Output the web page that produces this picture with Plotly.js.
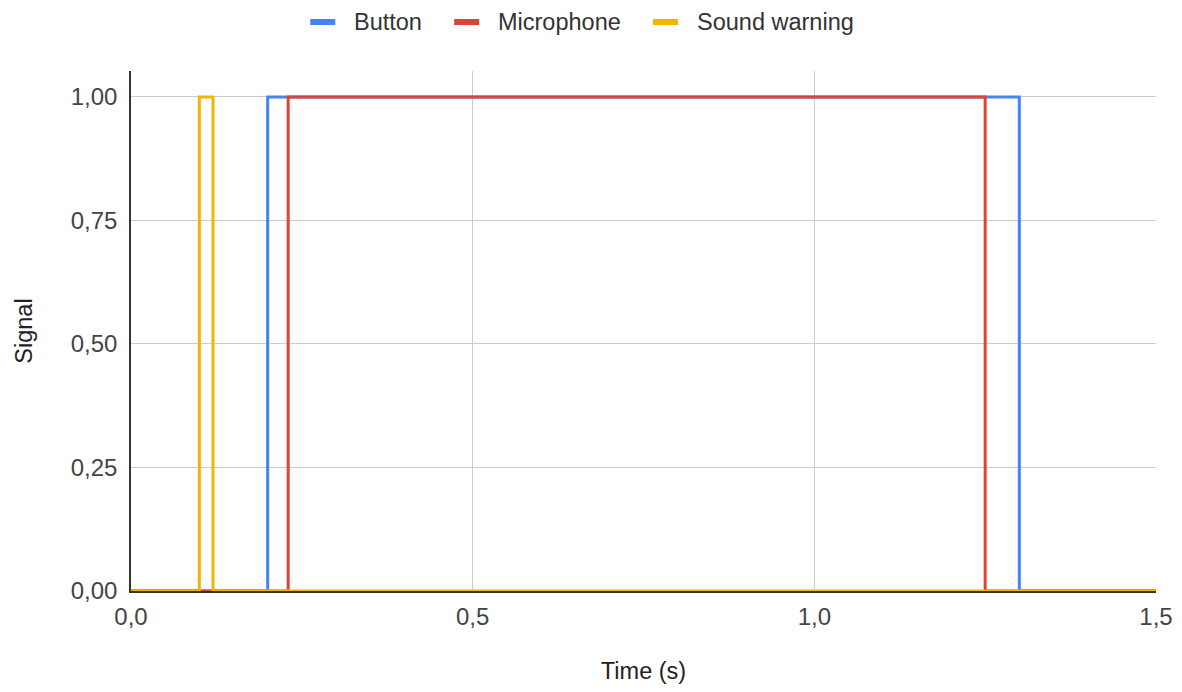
<!DOCTYPE html>
<html>
<head>
<meta charset="utf-8">
<script src="https://cdn.plot.ly/plotly-3.0.1.min.js"></script>
<style>
  html, body { margin: 0; padding: 0; background: #fff; }
  #chart { width: 1182px; height: 692px; }
</style>
</head>
<body>
<div id="chart"></div>
<script>
// Signal timing (seconds) – each series switches on and back off once
const seriesNames = ['Button', 'Microphone', 'Sound warning'];
const buttonTime = [0, 0.20, 1.30, 1.5];
const buttonSignal = [0, 1, 0, 0];
const micTime = [0, 0.23, 1.25, 1.5];
const micSignal = [0, 1, 0, 0];
const warningTime = [0, 0.10, 0.12, 1.5];
const warningSignal = [0, 1, 0, 0];
const yTicks = [0, 0.25, 0.5, 0.75, 1];
const xTicks = [0, 0.5, 1, 1.5];

const colors = ['#4285F4', '#DB4437', '#F4B400'];
const FONT = '"Liberation Sans", Arial, sans-serif';

const W = 1182, H = 692;
const M = { l: 131, r: 26, t: 71, b: 101 };
const plotW = W - M.l - M.r, plotH = H - M.t - M.b;

function stepTrace(name, x, y, color) {
  return {
    type: 'scatter', mode: 'lines', name: name,
    x: x, y: y,
    line: { color: color, width: 3, shape: 'hv' },
    showlegend: false,
    hoverinfo: 'x+y+name'
  };
}

const data = [
  stepTrace(seriesNames[0], buttonTime, buttonSignal, colors[0]),
  stepTrace(seriesNames[1], micTime, micSignal, colors[1]),
  stepTrace(seriesNames[2], warningTime, warningSignal, colors[2])
];

// Top legend: short thick swatch followed by the series name, centred on the page
const legendFont = { family: FONT, size: 23.5, color: '#333' };
const ctx = document.createElement('canvas').getContext('2d');
ctx.font = legendFont.size + 'px ' + FONT;
const swatchW = 25, swatchGap = 17, itemGap = 34, legendCenter = 581, legendY = 22;
const textW = seriesNames.map(n => ctx.measureText(n).width);
const totalW = textW.reduce((s, w) => s + swatchW + swatchGap + w, 0) + itemGap * (seriesNames.length - 1);
const toPaperX = px => (px - M.l) / plotW;
const legendYPaper = (H - M.b - legendY) / plotH;

const shapes = [];
const annotations = [];
let cursor = legendCenter - totalW / 2;
seriesNames.forEach((name, i) => {
  shapes.push({
    type: 'line', xref: 'paper', yref: 'paper',
    x0: toPaperX(cursor), x1: toPaperX(cursor + swatchW),
    y0: legendYPaper, y1: legendYPaper,
    line: { color: colors[i], width: 6 }
  });
  annotations.push({
    xref: 'paper', yref: 'paper',
    x: toPaperX(cursor + swatchW + swatchGap), y: legendYPaper,
    xanchor: 'left', yanchor: 'middle',
    text: name, showarrow: false,
    font: legendFont
  });
  cursor += swatchW + swatchGap + textW[i] + itemGap;
});

const layout = {
  width: W, height: H,
  margin: M,
  paper_bgcolor: '#fff', plot_bgcolor: '#fff',
  separators: ',.',
  font: { family: FONT, size: 24, color: '#444' },
  showlegend: false,
  shapes: shapes,
  annotations: annotations,
  xaxis: {
    range: [0, 1.5],
    tickvals: xTicks,
    tickformat: '.1f',
    showgrid: true, gridcolor: '#cccccc', gridwidth: 1,
    zeroline: false,
    showline: true, linecolor: '#333', linewidth: 1.5,
    ticks: '', ticklabelstandoff: 3,
    tickfont: { family: FONT, size: 24, color: '#444' },
    title: { text: 'Time (s)', standoff: 34, font: { family: FONT, size: 23.5, color: '#222' } }
  },
  yaxis: {
    range: [0, 1.0526],
    tickvals: yTicks,
    tickformat: '.2f',
    showgrid: true, gridcolor: '#cccccc', gridwidth: 1,
    zeroline: false,
    showline: true, linecolor: '#333', linewidth: 1.5,
    ticks: '', ticklabelstandoff: 7,
    tickfont: { family: FONT, size: 24, color: '#444' },
    title: { text: 'Signal', standoff: 32, font: { family: FONT, size: 23.5, color: '#222' } }
  }
};

Plotly.newPlot('chart', data, layout, { displayModeBar: false, responsive: false });
</script>
</body>
</html>
